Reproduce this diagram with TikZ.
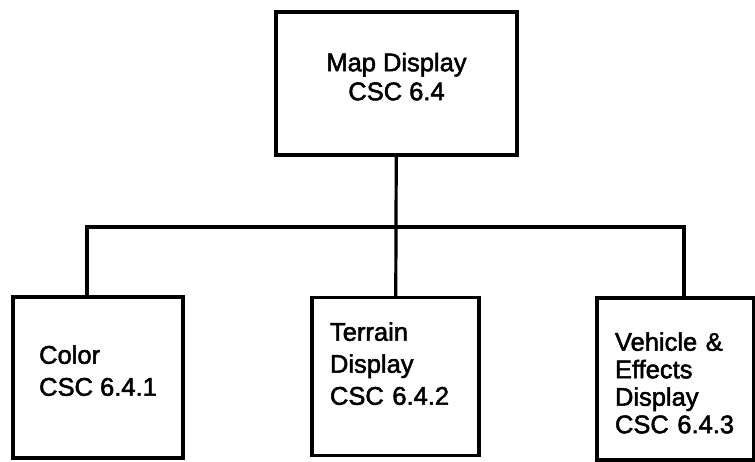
\documentclass[tikz,border=0pt]{standalone}
\usepackage{fontspec}
\setmainfont{Liberation Sans}[BoldFont={Liberation Sans},BoldFeatures={FakeBold=2}]
\usetikzlibrary{positioning}

\begin{document}
\begin{tikzpicture}[x=1pt,y=-1pt,line width=3.2pt]
\tikzset{csc/.style={draw,rectangle,align=left,inner ysep=0pt,font=\fontsize{25.5}{32}\selectfont\bfseries}}
\useasboundingbox (0,0) rectangle (755,462);
\node[csc,align=center,inner sep=0pt,minimum width=241pt,minimum height=143pt,text depth=14pt,font=\fontsize{25.5}{29}\selectfont\bfseries] (0) at (396.5,83.5) {Map Display\\CSC 6.4};
\node[csc,minimum width=170pt,minimum height=161pt,text depth=14pt] (1) at (98,377.5) {Color\\CSC 6.4.1};
\node[csc,text width=131pt,inner xsep=18pt,minimum height=158pt,text depth=90pt] (2) at (395.5,376.5) {Terrain\\Display\\CSC 6.4.2};
\node[csc,text width=121pt,inner xsep=18pt,minimum height=162pt,text depth=75pt,font=\fontsize{25.5}{27.5}\selectfont\bfseries] (3) at (675.5,379) {Vehicle \&\\Effects\\Display\\CSC 6.4.3};
\coordinate (b) at (396,227);
\coordinate (l) at (87,227);
\coordinate (r) at (684,227);
\draw (0) -- (b);
\draw (l |- 1.north) -- (l) -- (r) -- (r |- 3.north);
\draw (b) -- (2);
\end{tikzpicture}
\end{document}
